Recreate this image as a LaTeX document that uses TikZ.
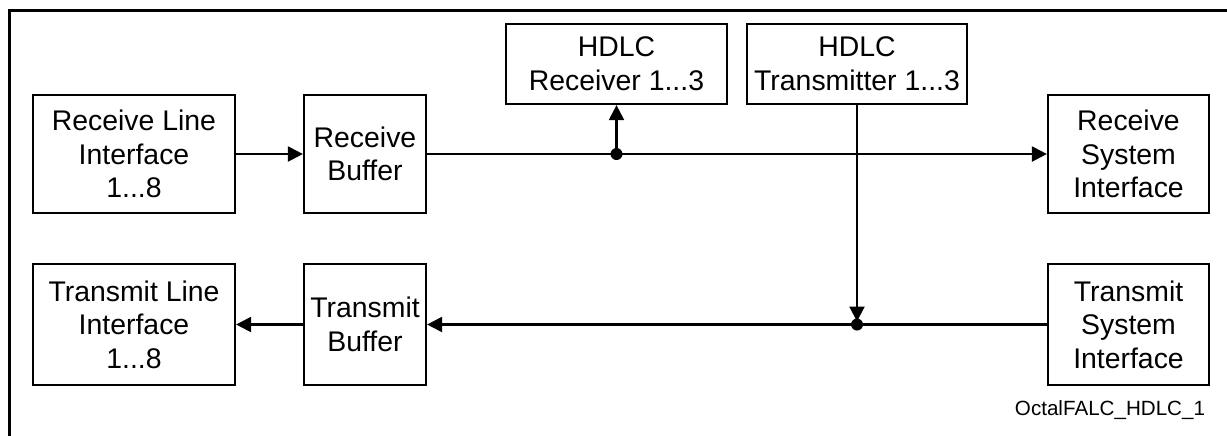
\documentclass[tikz,border=0pt]{standalone}
\usepackage{fontspec}
\setmainfont{Liberation Sans}
\usetikzlibrary{arrows.meta}
\begin{document}
\begin{tikzpicture}[x=0.5pt,y=-0.5pt,
  blk/.style={draw,line width=1.1pt,inner sep=0pt,align=center,
    font=\fontsize{14.2}{16.8}\selectfont},
  conn/.style={line width=1.1pt},
  arr/.style={conn,-{Triangle[length=7.5pt,width=7.5pt]}},
  jdot/.style={circle,fill,inner sep=0pt,minimum size=6pt}]
\useasboundingbox (0,0) rectangle (1227,435);
\draw[line width=1.5pt] (9,460) -- (9,10) -- (1240,10);
\node[blk,minimum width=101pt,minimum height=59pt] (rli) at (134,154) {Receive Line\\Interface\\1...8};
\node[blk,minimum width=61pt,minimum height=59pt] (rb) at (365,154) {Receive\\Buffer};
\node[blk,minimum width=110.5pt,minimum height=40pt] (hr) at (616.5,64) {HDLC\\Receiver 1...3};
\node[blk,minimum width=110pt,minimum height=40pt] (ht) at (857,64) {HDLC\\Transmitter 1...3};
\node[blk,minimum width=80.5pt,minimum height=59pt] (rsi) at (1128.5,154) {Receive\\System\\Interface};
\node[blk,minimum width=101pt,minimum height=60.5pt] (tli) at (134,324.5) {Transmit Line\\Interface\\1...8};
\node[blk,minimum width=61pt,minimum height=60.5pt] (tb) at (365,324.5) {Transmit\\Buffer};
\node[blk,minimum width=80.5pt,minimum height=60.5pt] (tsi) at (1128.5,324.5) {Transmit\\System\\Interface};
\node[font=\fontsize{10.3}{12}\selectfont] (lbl) at (1110,410) {OctalFALC\_HDLC\_1};
\coordinate (rdot) at (hr.south |- rb.east);
\coordinate (tdot) at (ht.south |- tb.east);
\draw[arr] (rli.east) -- (rb.west);
\draw[arr] (rb.east) -- (rsi.west);
\draw[arr] (rdot) -- (hr.south);
\draw[arr] (tsi.west) -- (tb.east);
\draw[arr,shorten >=1.5pt] (ht.south) -- (tdot);
\draw[arr] (tb.west) -- (tli.east);
\node[jdot] (rd) at (rdot) {};
\node[jdot] (td) at (tdot) {};
\end{tikzpicture}
\end{document}
